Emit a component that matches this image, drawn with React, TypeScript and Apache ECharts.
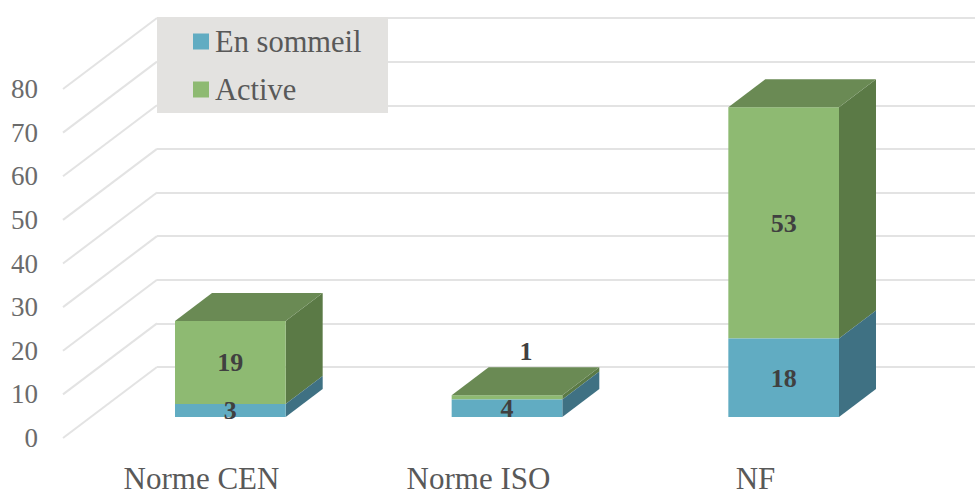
import React, { useEffect, useRef } from "react";
import * as echarts from "echarts";

const categories = ["Norme CEN", "Norme ISO", "NF"];
const enSommeil = [3, 4, 18];
const active = [19, 1, 53];
const wallTicks = [0, 10, 20, 30, 40, 50, 60, 70, 80];

const FONT = "'Liberation Serif', serif";
const BLUE = { front: "#61acc2", side: "#3f7183", top: "#4d8ba0" };
const GREEN = { front: "#8eba72", side: "#5b7a46", top: "#6a8a54" };
const DEPTH_X = 37;
const DEPTH_Y = 28;

function barItem(colors: { front: string; side: string; top: string }, showTop: boolean) {
  return (params: any, api: any) => {
    const i = api.value(0);
    const value = api.value(1);
    const base = api.value(2);
    const center = api.coord([i, 0]);
    const band = api.size([1, 0])[0];
    const w = band * 0.4;
    const x0 = center[0] - w / 2;
    const x1 = center[0] + w / 2;
    const yBottom = api.coord([i, base])[1];
    const yTop = api.coord([i, base + value])[1];
    const children: any[] = [
      { type: "polygon", shape: { points: [[x1, yBottom], [x1 + DEPTH_X, yBottom - DEPTH_Y], [x1 + DEPTH_X, yTop - DEPTH_Y], [x1, yTop]] }, style: { fill: colors.side } },
      { type: "rect", shape: { x: x0, y: yTop, width: w, height: yBottom - yTop }, style: { fill: colors.front } },
    ];
    if (showTop) {
      children.push({ type: "polygon", shape: { points: [[x0, yTop], [x1, yTop], [x1 + DEPTH_X, yTop - DEPTH_Y], [x0 + DEPTH_X, yTop - DEPTH_Y]] }, style: { fill: colors.top } });
    }
    const tiny = value <= 1;
    children.push({
      type: "text",
      z2: 10,
      style: {
        text: String(value),
        x: center[0] + (tiny ? 19 : 0),
        y: (yTop + yBottom) / 2 + (tiny ? -46 : 0.5),
        align: "center",
        verticalAlign: "middle",
        font: `bold 26px ${FONT}`,
        fill: "#404040",
      },
    });
    return { type: "group", children };
  };
}

function wallItem(params: any, api: any) {
  const p = api.coord([0, api.value(0)]);
  return {
    type: "line",
    shape: { x1: p[0], y1: p[1], x2: p[0] - 94, y2: p[1] + 71 },
    style: { stroke: "#e3e3e3", lineWidth: 2 },
  };
}

export default function App() {
  const ref = useRef<HTMLDivElement>(null);
  useEffect(() => {
    const chart = echarts.init(ref.current!, undefined, { renderer: "svg" });
    const hiddenCat = { type: "category", data: categories, show: false };
    const hiddenVal = { type: "value", min: 0, max: 80, interval: 10, show: false };
    chart.setOption({
      animation: false,
      backgroundColor: "#ffffff",
      grid: [
        { left: 92, width: 830, top: 68, height: 349, outerBoundsMode: "none" },
        { left: 63, width: 831, top: 89, height: 349, outerBoundsMode: "none" },
        { left: 157, width: 818, top: 18, height: 349, outerBoundsMode: "none" },
      ],
      xAxis: [
        { ...hiddenCat, gridIndex: 0 },
        {
          type: "category",
          gridIndex: 1,
          data: categories,
          axisLine: { show: false },
          axisTick: { show: false },
          axisLabel: { margin: 28, interval: 0, fontFamily: FONT, fontSize: 31, lineHeight: 24, color: "#595959" },
        },
        { type: "value", gridIndex: 2, min: 0, max: 1, show: false },
      ],
      yAxis: [
        { ...hiddenVal, gridIndex: 0 },
        {
          type: "value",
          gridIndex: 1,
          min: 0,
          max: 80,
          interval: 10,
          axisLine: { show: false },
          axisTick: { show: false },
          splitLine: { show: false },
          axisLabel: { margin: 25, fontFamily: FONT, fontSize: 27, color: "#6b6b6b" },
        },
        {
          type: "value",
          gridIndex: 2,
          min: 0,
          max: 80,
          interval: 10,
          axisLine: { show: false },
          axisTick: { show: false },
          axisLabel: { show: false },
          splitLine: { show: true, lineStyle: { color: "#e3e3e3", width: 2 } },
        },
      ],
      legend: {
        orient: "vertical",
        left: 193,
        top: 26,
        padding: 0,
        itemWidth: 16,
        itemHeight: 16,
        itemGap: 17,
        icon: "rect",
        z: 20,
        data: ["En sommeil", "Active"],
        textStyle: { fontFamily: FONT, fontSize: 30.5, color: "#595959", padding: [2, 0, 0, 1] },
      },
      graphic: [
        { type: "rect", z: 15, shape: { x: 157, y: 17, width: 231, height: 96 }, style: { fill: "#e3e2e0" } },
      ],
      series: [
        {
          type: "custom",
          name: "walls",
          xAxisIndex: 2,
          yAxisIndex: 2,
          z: 1,
          silent: true,
          renderItem: wallItem,
          data: wallTicks.map((t) => [t]),
          encode: { y: 0 },
        },
        {
          type: "custom",
          name: "Active",
          xAxisIndex: 0,
          yAxisIndex: 0,
          z: 3,
          itemStyle: { color: GREEN.front },
          renderItem: barItem(GREEN, true),
          data: categories.map((_, i) => [i, active[i], enSommeil[i]]),
          encode: { x: 0, y: 1 },
        },
        {
          type: "custom",
          name: "En sommeil",
          xAxisIndex: 0,
          yAxisIndex: 0,
          z: 4,
          itemStyle: { color: BLUE.front },
          renderItem: barItem(BLUE, false),
          data: categories.map((_, i) => [i, enSommeil[i], 0]),
          encode: { x: 0, y: 1 },
        },
      ],
    });
    return () => chart.dispose();
  }, []);
  return <div ref={ref} style={{ position: "fixed", left: 0, top: 0, width: 975, height: 491 }} />;
}
